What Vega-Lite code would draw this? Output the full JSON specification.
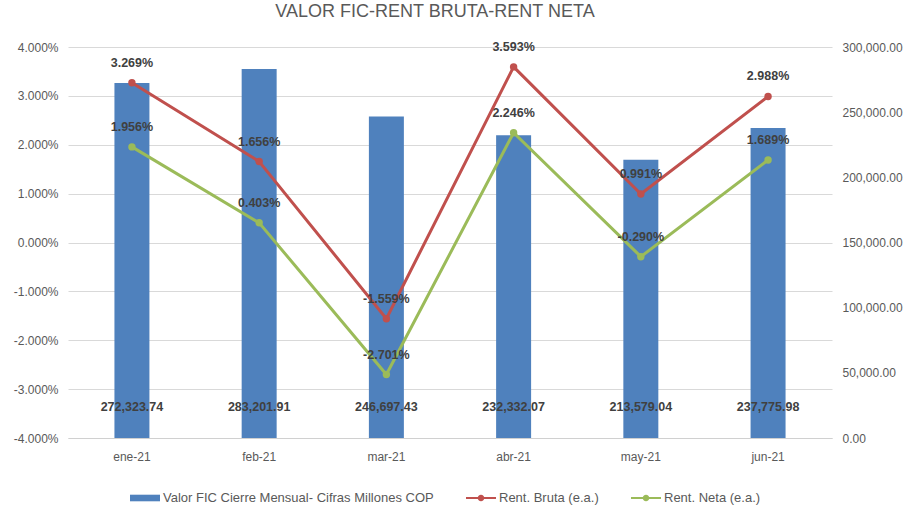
{
  "$schema": "https://vega.github.io/schema/vega-lite/v6.json",
  "width": 764,
  "height": 391,
  "autosize": {"type": "none"},
  "padding": {"left": 68, "top": 47, "right": 82, "bottom": 71},
  "background": "white",
  "config": {
    "font": "Liberation Sans",
    "view": {"stroke": null},
    "axis": {"labelFont": "Liberation Sans", "labelFontSize": 12, "labelColor": "#595959", "ticks": false, "labelPadding": 10, "gridColor": "#d9d9d9", "domainColor": "#d0d0d0", "title": null}
  },
  "title": {"text": "VALOR FIC-RENT BRUTA-RENT NETA", "fontSize": 18, "fontWeight": "normal", "color": "#595959", "font": "Liberation Sans", "anchor": "middle", "offset": 20, "dx": -15},
  "datasets": {
    "valor": [
      {"mes": "ene-21", "valor": 272323.74},
      {"mes": "feb-21", "valor": 283201.91},
      {"mes": "mar-21", "valor": 246697.43},
      {"mes": "abr-21", "valor": 232332.07},
      {"mes": "may-21", "valor": 213579.04},
      {"mes": "jun-21", "valor": 237775.98}
    ],
    "rent": [
      {"mes": "ene-21", "serie": "Rent. Bruta (e.a.)", "rent": 0.03269},
      {"mes": "feb-21", "serie": "Rent. Bruta (e.a.)", "rent": 0.01656},
      {"mes": "mar-21", "serie": "Rent. Bruta (e.a.)", "rent": -0.01559},
      {"mes": "abr-21", "serie": "Rent. Bruta (e.a.)", "rent": 0.03593},
      {"mes": "may-21", "serie": "Rent. Bruta (e.a.)", "rent": 0.00991},
      {"mes": "jun-21", "serie": "Rent. Bruta (e.a.)", "rent": 0.02988},
      {"mes": "ene-21", "serie": "Rent. Neta (e.a.)", "rent": 0.01956},
      {"mes": "feb-21", "serie": "Rent. Neta (e.a.)", "rent": 0.00403},
      {"mes": "mar-21", "serie": "Rent. Neta (e.a.)", "rent": -0.02701},
      {"mes": "abr-21", "serie": "Rent. Neta (e.a.)", "rent": 0.02246},
      {"mes": "may-21", "serie": "Rent. Neta (e.a.)", "rent": -0.0029},
      {"mes": "jun-21", "serie": "Rent. Neta (e.a.)", "rent": 0.01689}
    ]
  },
  "layer": [
    {
      "data": {"name": "valor"},
      "encoding": {
        "x": {"field": "mes", "type": "ordinal", "scale": {"domain": ["ene-21", "feb-21", "mar-21", "abr-21", "may-21", "jun-21"], "paddingInner": 0.725, "paddingOuter": 0.365}, "axis": {"labelAngle": 0, "title": null, "grid": false, "labelPadding": 13}}
      },
      "layer": [
        {
          "mark": {"type": "bar"},
          "encoding": {
            "y": {"field": "valor", "type": "quantitative", "scale": {"domain": [0, 300000]}, "axis": {"orient": "right", "grid": false, "domain": false, "values": [0, 50000, 100000, 150000, 200000, 250000, 300000], "format": ",.2f", "title": null}},
            "color": {"datum": "Valor FIC Cierre Mensual- Cifras Millones COP", "type": "nominal"}
          }
        },
        {
          "mark": {"type": "text", "dy": -31, "fontWeight": "bold", "fontSize": 12.5, "color": "#404040", "font": "Liberation Sans"},
          "encoding": {
            "y": {"datum": 0, "type": "quantitative"},
            "text": {"field": "valor", "type": "quantitative", "format": ",.2f"}
          }
        }
      ]
    },
    {
      "data": {"name": "rent"},
      "encoding": {
        "x": {"field": "mes", "type": "ordinal", "scale": {"domain": ["ene-21", "feb-21", "mar-21", "abr-21", "may-21", "jun-21"], "paddingInner": 0.725, "paddingOuter": 0.365}, "axis": {"labelAngle": 0, "title": null, "grid": false, "labelPadding": 13}},
        "y": {"field": "rent", "type": "quantitative", "scale": {"domain": [-0.04, 0.04]}, "axis": {"orient": "left", "grid": true, "domain": false, "values": [-0.04, -0.03, -0.02, -0.01, 0, 0.01, 0.02, 0.03, 0.04], "format": ".3%", "labelExpr": "replace(datum.label, '\u2212', '-')", "title": null}}
      },
      "layer": [
        {
          "mark": {"type": "line", "strokeWidth": 3, "point": {"filled": true, "size": 55}},
          "encoding": {
            "color": {
              "field": "serie", "type": "nominal",
              "scale": {"domain": ["Valor FIC Cierre Mensual- Cifras Millones COP", "Rent. Bruta (e.a.)", "Rent. Neta (e.a.)"], "range": ["#4F81BD", "#C0504D", "#9BBB59"]},
              "legend": {
                "orient": "none", "legendX": 62, "legendY": 436, "direction": "horizontal", "title": null,
                "labelFontSize": 13, "labelColor": "#595959", "labelFont": "Liberation Sans", "labelLimit": 500,
                "symbolSize": 900, "columnPadding": 32, "labelOffset": 3,
                "encode": {
                  "symbols": {
                    "update": {
                      "shape": {"signal": "datum.value === 'Valor FIC Cierre Mensual- Cifras Millones COP' ? 'M-1,-0.22H1V0.22H-1Z' : 'M-1,-0.07H1V0.07H-1Z M0.22,0A0.22,0.22 0 1 1 -0.22,0A0.22,0.22 0 1 1 0.22,0Z'"},
                      "fill": {"signal": "scale('color', datum.value)"},
                      "strokeWidth": {"value": 0},
                      "opacity": {"value": 1}
                    }
                  }
                }
              }
            }
          }
        },
        {
          "mark": {"type": "text", "dy": -20, "fontWeight": "bold", "fontSize": 12.5, "color": "#404040", "font": "Liberation Sans", "text": {"expr": "replace(format(datum.rent, '.3%'), '\u2212', '-')"}},
          "encoding": {}
        }
      ]
    }
  ],
  "resolve": {"scale": {"y": "independent"}}
}
